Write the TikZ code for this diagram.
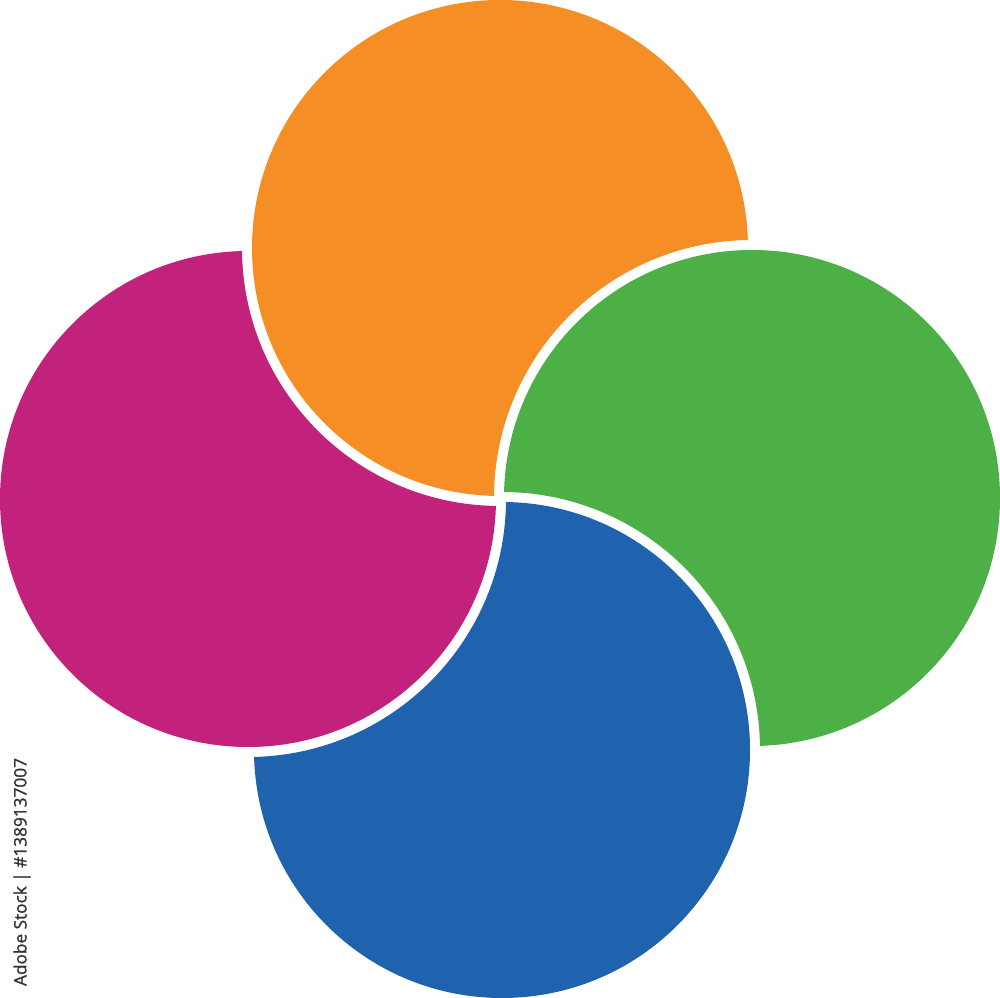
\documentclass[tikz,border=0pt]{standalone}
\usepackage{fontspec}
\newfontfamily\wmfont[FakeBold=1.2]{Open Sans}
\definecolor{cOrange}{HTML}{F68E26}
\definecolor{cGreen}{HTML}{4CB047}
\definecolor{cBlue}{HTML}{1F62AE}
\definecolor{cMagenta}{HTML}{C2217C}
\definecolor{cText}{HTML}{333333}
\tikzset{
  petal/.style={even odd rule, draw=none},
  stockid/.style={rotate=90, text=cText, inner sep=0pt, font=\wmfont\fontsize{4.9}{5.5}\selectfont}
}
\begin{document}
\begin{tikzpicture}[x=0.01cm,y=-0.01cm]
\useasboundingbox (0,0) rectangle (1000,998);
\def\rr{248}
\def\rc{258}
\coordinate (O) at (500,248);
\coordinate (G) at (752,498);
\coordinate (B) at (502,750);
\coordinate (M) at (248,499);
% orange, cut by green
\begin{scope}
  \clip (O) circle[radius=\rr];
  \fill[petal, cOrange] (-50,-50) rectangle (1050,1050) (G) circle[radius=\rc];
\end{scope}
% green, cut by blue
\begin{scope}
  \clip (G) circle[radius=\rr];
  \fill[petal, cGreen] (-50,-50) rectangle (1050,1050) (B) circle[radius=\rc];
\end{scope}
% blue, cut by magenta
\begin{scope}
  \clip (B) circle[radius=\rr];
  \fill[petal, cBlue] (-50,-50) rectangle (1050,1050) (M) circle[radius=\rc];
\end{scope}
% magenta, cut by orange
\begin{scope}
  \clip (M) circle[radius=\rr];
  \fill[petal, cMagenta] (-50,-50) rectangle (1050,1050) (O) circle[radius=\rc];
\end{scope}
\node[stockid] (idtext) at (22,872) {Adobe Stock | \#1389137007};
\end{tikzpicture}
\end{document}
